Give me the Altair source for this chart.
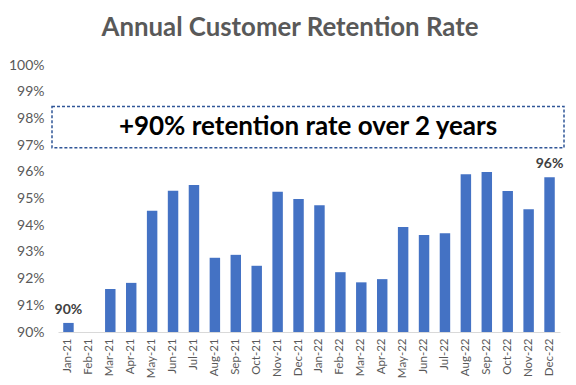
import altair as alt
import pandas as pd

months = ["Jan-21","Feb-21","Mar-21","Apr-21","May-21","Jun-21","Jul-21","Aug-21","Sep-21","Oct-21","Nov-21","Dec-21",
          "Jan-22","Feb-22","Mar-22","Apr-22","May-22","Jun-22","Jul-22","Aug-22","Sep-22","Oct-22","Nov-22","Dec-22"]
rates = [0.9034, 0.9000, 0.9161, 0.9184, 0.9454, 0.9529, 0.9551, 0.9278, 0.9289, 0.9248, 0.9525, 0.9498,
         0.9475, 0.9224, 0.9186, 0.9198, 0.9393, 0.9363, 0.9370, 0.9591, 0.9599, 0.9528, 0.9460, 0.9580]
labelled = ["Jan-21", "Dec-22"]
y_ticks = [0.90, 0.91, 0.92, 0.93, 0.94, 0.95, 0.96, 0.97, 0.98, 0.99, 1.00]
note_text = "+90% retention rate over 2 years"
note_low, note_high, note_mid = 0.9690, 0.9845, 0.9768

FONT = "Lato"
df = pd.DataFrame({"month": months, "rate": rates})
df["label"] = [f"{r:.0%}" if m in labelled else "" for m, r in zip(months, rates)]

x = alt.X("month:N", sort=months, title=None,
          scale=alt.Scale(paddingInner=0.5, paddingOuter=0.25),
          axis=alt.Axis(labelAngle=-90, labelFont=FONT, labelFontSize=11.5, labelColor="#595959",
                        ticks=False, domainColor="#d9d9d9", domainWidth=1, labelPadding=6,
                        labelOverlap=False))
y_scale = alt.Scale(domain=[0.90, 1.00], zero=False, nice=False)
y_axis = alt.Axis(values=y_ticks, format=".0%", grid=False, domain=False, ticks=False,
                  labelFont=FONT, labelFontSize=14, labelColor="#595959", labelPadding=14,
                  labelOverlap=False, labelBound=False, title=None)
y = alt.Y("rate:Q", title=None, scale=y_scale, axis=y_axis)

base = alt.Chart(df)
bars = base.mark_bar(color="#4472C4").encode(x=x, y=y, y2=alt.datum(0.90))
labels = base.mark_text(font=FONT, fontSize=14, fontWeight="bold", color="#404040",
                        baseline="bottom", dy=-6).encode(x=x, y=y, text="label:N")

note_df = pd.DataFrame({"t": [note_text]})
box = alt.Chart(note_df).mark_rect(fill="white", stroke="#2F5597", strokeWidth=1.5,
                                    strokeDash=[3, 2]).encode(
    x=alt.value(-6), x2=alt.value(506),
    y=alt.YDatum(note_high, axis=y_axis, scale=y_scale), y2=alt.datum(note_low))
note = alt.Chart(note_df).mark_text(font=FONT, fontSize=26, fontWeight="bold", color="black",
                                     baseline="middle", align="center").encode(
    x=alt.value(250), y=alt.YDatum(note_mid, axis=y_axis, scale=y_scale), text="t:N")

chart = alt.layer(bars, labels, box, note).properties(
    width=502, height=267,
    background="white",
    autosize=alt.AutoSizeParams(type="none"),
    padding={"left": 50, "top": 57, "right": 8, "bottom": 52},
    title=alt.TitleParams("Annual Customer Retention Rate", font=FONT, fontSize=25.8,
                          fontWeight="bold", color="#595959", anchor="middle", dx=-19, offset=16),
).configure_view(strokeWidth=0, stroke="transparent")

chart.save("out.html", embed_options={"renderer": "svg", "actions": False})
